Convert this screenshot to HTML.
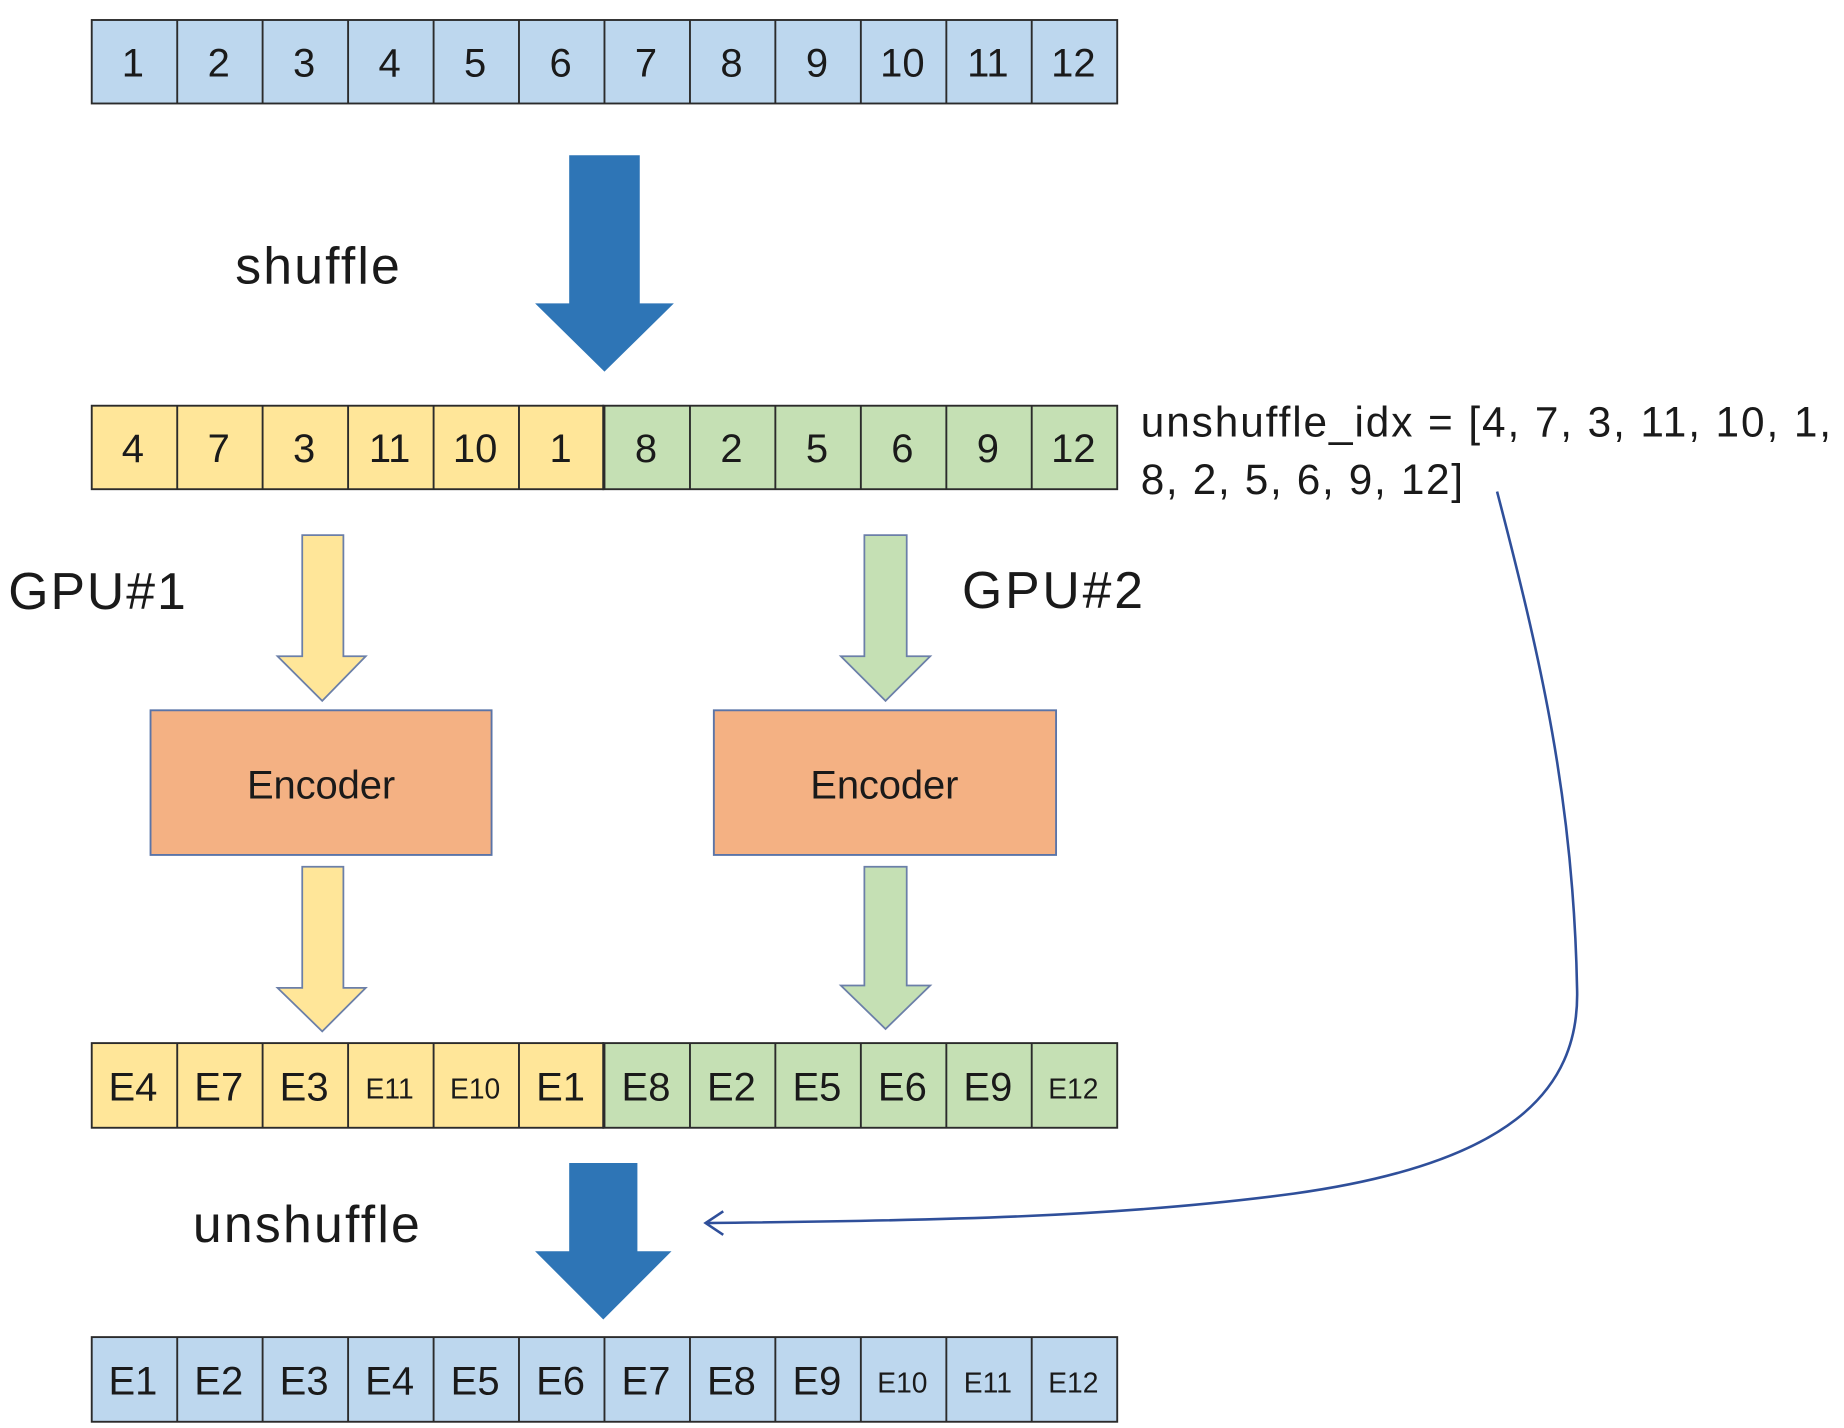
<!DOCTYPE html>
<html><head><meta charset="utf-8"><style>
html,body{margin:0;padding:0;background:#fff;}
svg{display:block;}
text{font-family:"Liberation Sans",sans-serif;fill:#1a1a1a;}
</style></head><body>
<svg width="1844" height="1428" viewBox="0 0 1568 1214.3" preserveAspectRatio="none" xmlns="http://www.w3.org/2000/svg">
<g stroke="#2b2b2b" stroke-width="1.6">
<g fill="#bdd7ee">
<rect x="78" y="17" width="872" height="71"/>
</g>
<g fill="#ffe699"><rect x="78" y="345" width="435" height="71"/><rect x="78" y="887" width="435" height="72"/></g>
<g fill="#c5e0b4"><rect x="513" y="345" width="437" height="71"/><rect x="513" y="887" width="437" height="72"/></g>
<g fill="#bdd7ee"><rect x="78" y="1137" width="872" height="72"/></g>
<g>
<path d="M150.7 17V88M223.3 17V88M296 17V88M368.7 17V88M441.3 17V88M514 17V88M586.7 17V88M659.3 17V88M732 17V88M804.7 17V88M877.3 17V88"/>
<path d="M150.7 345V416M223.3 345V416M296 345V416M368.7 345V416M441.3 345V416M514 345V416M586.7 345V416M659.3 345V416M732 345V416M804.7 345V416M877.3 345V416"/>
<path d="M150.7 887V959M223.3 887V959M296 887V959M368.7 887V959M441.3 887V959M514 887V959M586.7 887V959M659.3 887V959M732 887V959M804.7 887V959M877.3 887V959"/>
<path d="M150.7 1137V1209M223.3 1137V1209M296 1137V1209M368.7 1137V1209M441.3 1137V1209M514 1137V1209M586.7 1137V1209M659.3 1137V1209M732 1137V1209M804.7 1137V1209M877.3 1137V1209"/>
</g>
</g>
<g font-size="34" text-anchor="middle">
<text x="113" y="65">1</text><text x="186" y="65">2</text><text x="258.6" y="65">3</text><text x="331.3" y="65">4</text><text x="404" y="65">5</text><text x="476.7" y="65">6</text><text x="549.3" y="65">7</text><text x="622" y="65">8</text><text x="694.7" y="65">9</text><text x="767.3" y="65">10</text><text x="840" y="65">11</text><text x="912.7" y="65">12</text>
<text x="113" y="393">4</text><text x="186" y="393">7</text><text x="258.6" y="393">3</text><text x="331.3" y="393">11</text><text x="404" y="393">10</text><text x="476.7" y="393">1</text><text x="549.3" y="393">8</text><text x="622" y="393">2</text><text x="694.7" y="393">5</text><text x="767.3" y="393">6</text><text x="840" y="393">9</text><text x="912.7" y="393">12</text>
<text x="113" y="936">E4</text><text x="186" y="936">E7</text><text x="258.6" y="936">E3</text><text x="331.3" y="934" font-size="24">E11</text><text x="404" y="934" font-size="24">E10</text><text x="476.7" y="936">E1</text><text x="549.3" y="936">E8</text><text x="622" y="936">E2</text><text x="694.7" y="936">E5</text><text x="767.3" y="936">E6</text><text x="840" y="936">E9</text><text x="912.7" y="934" font-size="24">E12</text>
<text x="113" y="1186">E1</text><text x="186" y="1186">E2</text><text x="258.6" y="1186">E3</text><text x="331.3" y="1186">E4</text><text x="404" y="1186">E5</text><text x="476.7" y="1186">E6</text><text x="549.3" y="1186">E7</text><text x="622" y="1186">E8</text><text x="694.7" y="1186">E9</text><text x="767.3" y="1184" font-size="24">E10</text><text x="840" y="1184" font-size="24">E11</text><text x="912.7" y="1184" font-size="24">E12</text>
</g>
<path d="M484 132H544V258H573L514 316L455 258H484Z" fill="#2e75b6"/>
<path d="M484 989H542V1064H571L513 1122L455 1064H484Z" fill="#2e75b6"/>
<g stroke="#6b7fa8" stroke-width="1.5">
<path d="M257 455H292V558H311L274 596L236 558H257Z" fill="#ffe699"/>
<path d="M257 737H292V840H311L274 877L236 840H257Z" fill="#ffe699"/>
<path d="M735 455H771V558H791L753 596L715 558H735Z" fill="#c5e0b4"/>
<path d="M735 737H771V838H791L753 875L715 838H735Z" fill="#c5e0b4"/>
</g>
<g fill="#f4b183" stroke="#5a74a8" stroke-width="1.6">
<rect x="128" y="604" width="290" height="123"/>
<rect x="607" y="604" width="291" height="123"/>
</g>
<text x="210" y="679" font-size="34" textLength="126">Encoder</text>
<text x="689" y="679" font-size="34" textLength="126">Encoder</text>
<text x="200" y="241" font-size="44" textLength="140">shuffle</text>
<text x="164" y="1056" font-size="44" textLength="193">unshuffle</text>
<text x="7" y="518" font-size="44" textLength="151">GPU#1</text>
<text x="818" y="517" font-size="44" textLength="154">GPU#2</text>
<text x="970" y="371" font-size="36" textLength="587">unshuffle_idx = [4, 7, 3, 11, 10, 1,</text>
<text x="970" y="420" font-size="36" textLength="274">8, 2, 5, 6, 9, 12]</text>
<path d="M1273 418C1310 560 1338 680 1341 840C1344 930 1280 990 1100 1015C950 1035 800 1038 600 1040" fill="none" stroke="#2f4f9a" stroke-width="2.2"/>
<path d="M615 1030L600 1040L615 1050" fill="none" stroke="#2f4f9a" stroke-width="2.2"/>
</svg>
</body></html>
